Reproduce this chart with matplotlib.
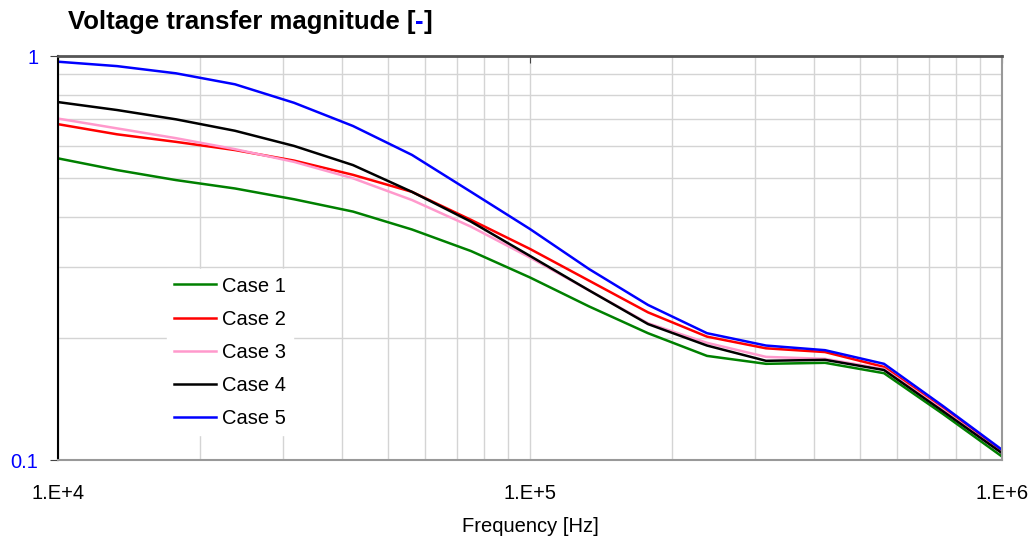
import matplotlib
matplotlib.use("Agg")
import matplotlib.pyplot as plt
from matplotlib.ticker import FixedLocator, NullFormatter

plt.rcParams['font.family'] = ['Liberation Sans', 'DejaVu Sans']

# frequency points [Hz]
freq = [10000, 13335, 17783, 23714, 31623, 42170, 56234, 74989, 100000,
        133352, 177828, 237137, 316228, 421697, 562341, 749894, 1000000]

case1 = [0.558, 0.522, 0.493, 0.470, 0.442, 0.412, 0.372, 0.329, 0.283,
         0.240, 0.206, 0.181, 0.173, 0.174, 0.164, 0.130, 0.102]
case2 = [0.678, 0.640, 0.613, 0.585, 0.551, 0.508, 0.461, 0.393, 0.333,
         0.278, 0.232, 0.202, 0.189, 0.185, 0.170, 0.134, 0.105]
case3 = [0.700, 0.662, 0.626, 0.588, 0.547, 0.498, 0.440, 0.378, 0.317,
         0.263, 0.218, 0.195, 0.180, 0.178, 0.168, 0.133, 0.104]
case4 = [0.769, 0.735, 0.697, 0.653, 0.599, 0.537, 0.461, 0.389, 0.320,
         0.263, 0.217, 0.192, 0.176, 0.177, 0.167, 0.132, 0.104]
case5 = [0.968, 0.944, 0.906, 0.851, 0.766, 0.671, 0.569, 0.461, 0.373,
         0.297, 0.242, 0.206, 0.192, 0.187, 0.173, 0.136, 0.106]

labels = ["Case 1", "Case 2", "Case 3", "Case 4", "Case 5"]
colors = ["#008000", "#ff0000", "#ff99cc", "#000000", "#0000ff"]
x_ticks = [1e4, 1e5, 1e6]
x_tick_labels = ["1.E+4", "1.E+5", "1.E+6"]
y_ticks = [0.1, 1]
y_tick_labels = ["0.1", "1"]

fig = plt.figure(figsize=(10.34, 5.42), dpi=100)
ax = fig.add_axes([58 / 1034, 1 - 460 / 542, 944 / 1034, 404 / 542])

for series, lab, col in zip([case1, case2, case3, case4, case5], labels, colors):
    ax.plot(freq, series, color=col, lw=1.8, label=lab)

ax.set_xscale("log")
ax.set_yscale("log")
ax.set_xlim(1e4, 1e6)
ax.set_ylim(0.1, 1)

ax.xaxis.set_major_locator(FixedLocator(x_ticks))
ax.set_xticklabels(x_tick_labels)
ax.xaxis.set_minor_locator(FixedLocator([m * d for d in (1e4, 1e5) for m in range(2, 10)]))
ax.xaxis.set_minor_formatter(NullFormatter())
ax.yaxis.set_major_locator(FixedLocator(y_ticks))
ax.set_yticklabels(y_tick_labels)
ax.yaxis.set_minor_locator(FixedLocator([m * 0.1 for m in range(2, 10)]))
ax.yaxis.set_minor_formatter(NullFormatter())

ax.grid(True, which="both", color="#d4d4d4", lw=1)
ax.set_axisbelow(True)

ax.tick_params(axis="x", which="major", bottom=False, top=True, direction="in",
               length=5, color="#444444", labelsize=14.5, pad=17)
ax.tick_params(axis="x", which="minor", bottom=False, top=False)
ax.tick_params(axis="y", which="major", left=True, direction="out", length=6,
               color="#444444", labelsize=14.5, labelcolor="#0000ff", pad=8)
ax.tick_params(axis="y", which="minor", left=False)

ax.spines["left"].set_color("#000000")
ax.spines["left"].set_linewidth(1.5)
ax.spines["top"].set_color("#555555")
ax.spines["top"].set_linewidth(2)
ax.spines["right"].set_color("#999999")
ax.spines["right"].set_linewidth(1.5)
ax.spines["bottom"].set_color("#999999")
ax.spines["bottom"].set_linewidth(1.5)

ax.set_xlabel("Frequency [Hz]", fontsize=14.5, labelpad=10)

leg = ax.legend(loc="lower left", bbox_to_anchor=(0.1155, 0.062), borderaxespad=0,
                fontsize=14.5, frameon=True, fancybox=False, framealpha=1,
                edgecolor="white", handlelength=2.1, handletextpad=0.3,
                labelspacing=0.7, borderpad=0.35)
for line in leg.get_lines():
    line.set_linewidth(1.8)

t1 = fig.text(68 / 1034, 1 - 22 / 542, "Voltage transfer magnitude [", fontsize=18.5,
              fontweight="bold", va="center", ha="left")
t2 = ax.annotate("-", xy=(1, 0), xycoords=t1, va="bottom", ha="left",
                 fontsize=18.5, fontweight="bold", color="#0000ff")
ax.annotate("]", xy=(1, 0), xycoords=t2, va="bottom", ha="left",
            fontsize=18.5, fontweight="bold")

fig.savefig("out.png", dpi=100)
